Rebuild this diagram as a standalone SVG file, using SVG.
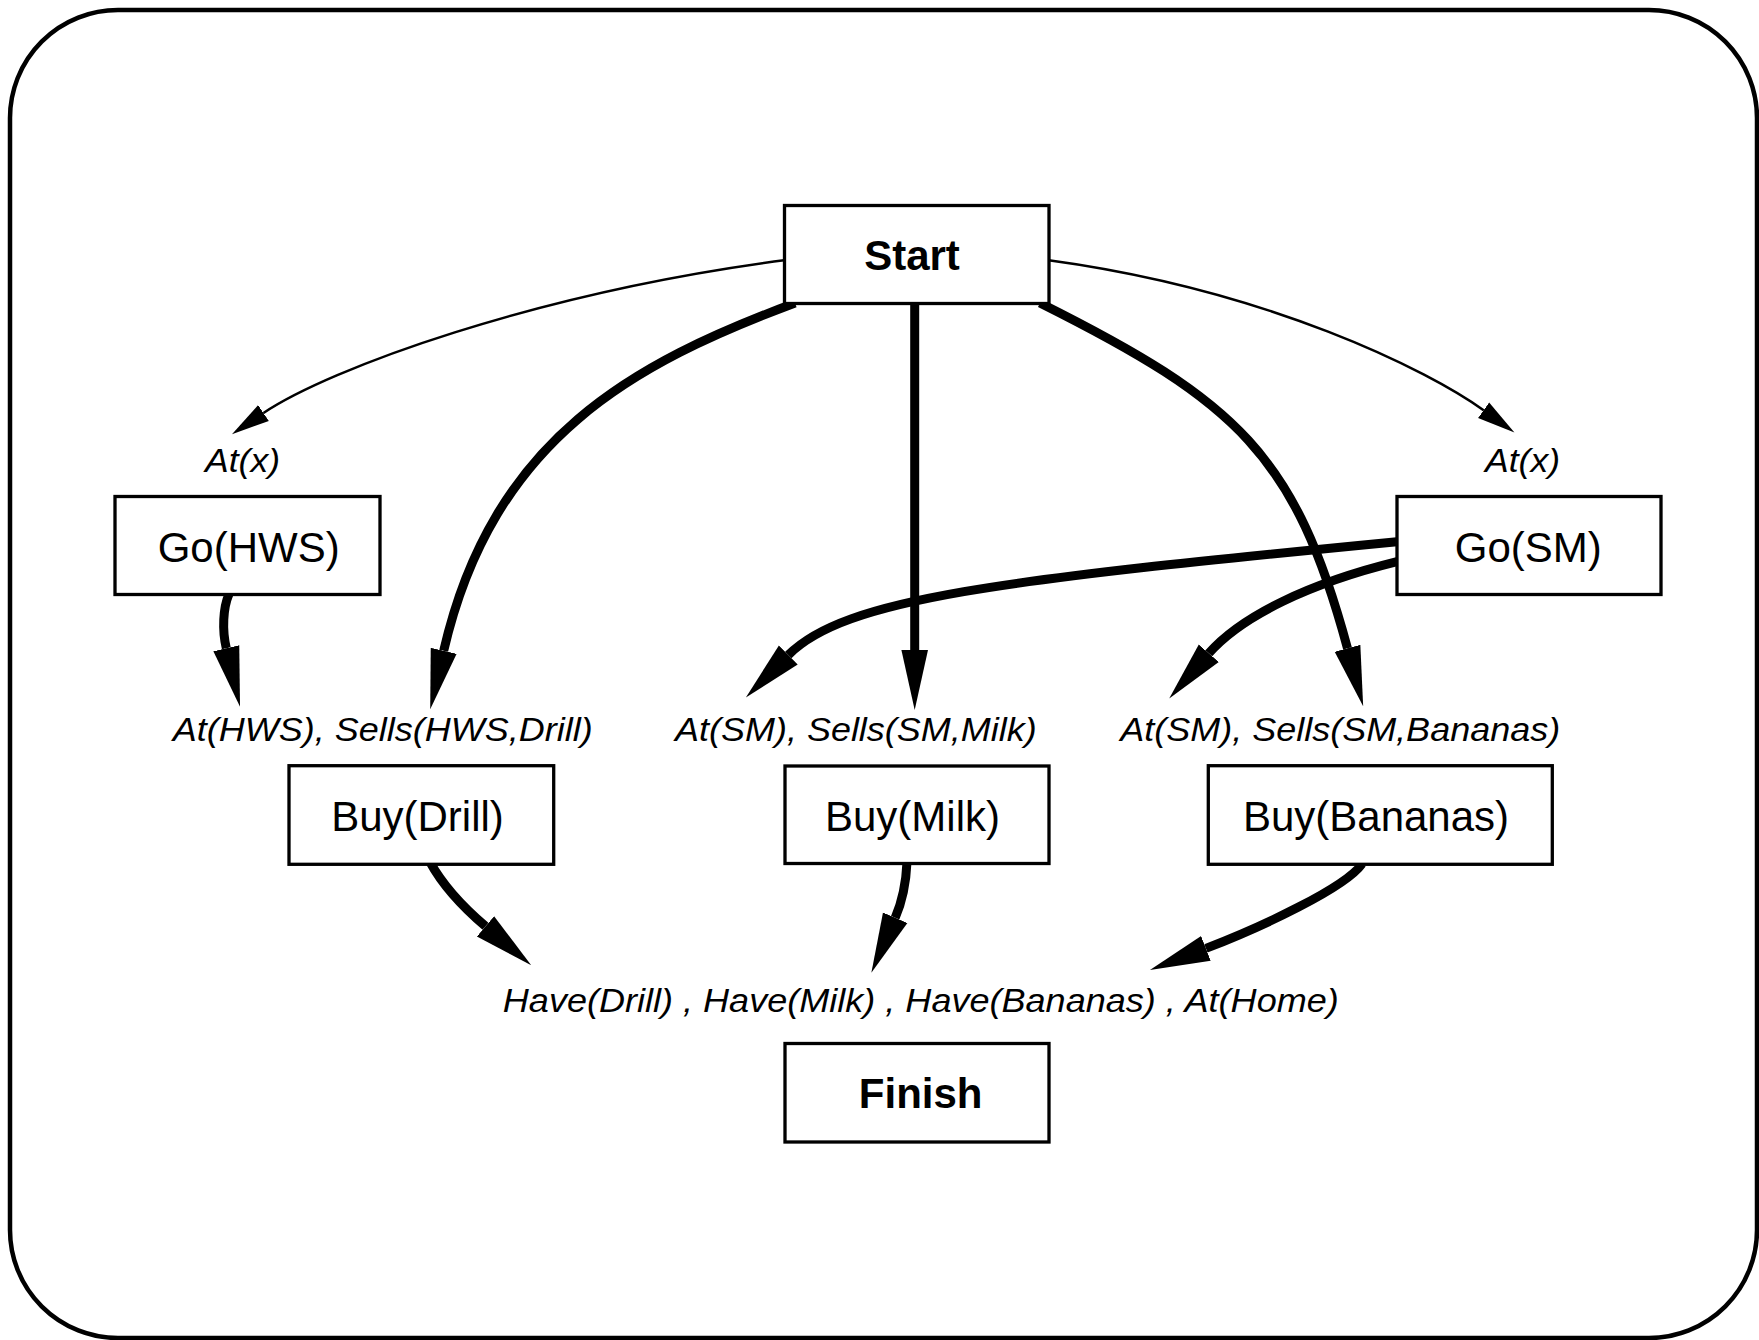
<svg xmlns="http://www.w3.org/2000/svg" width="1759" height="1340" viewBox="0 0 1759 1340">
  <style>
    .frame { fill: none; stroke: #000; stroke-width: 4.5; }
    .box { fill: #fff; stroke: #000; stroke-width: 3.3; }
    .name { font-family: "Liberation Sans", Arial, Helvetica, sans-serif; font-size: 42px; fill: #000; text-anchor: middle; }
    .bold { font-weight: bold; }
    .cond { font-family: "Liberation Sans", Arial, Helvetica, sans-serif; font-size: 34px; font-style: italic; fill: #000; }
    .thick { fill: none; stroke: #000; stroke-width: 9; }
    .thin { fill: none; stroke: #000; stroke-width: 2.5; }
  </style>
  <defs>
    <marker id="head-thick" markerUnits="userSpaceOnUse" markerWidth="62" markerHeight="30" viewBox="0 -15 62 30" refX="0" refY="0" orient="auto">
      <path d="M0,-13.3 L60,0 L0,13.3 Z" fill="#000"/>
    </marker>
    <marker id="head-thin" markerUnits="userSpaceOnUse" markerWidth="40" markerHeight="22" viewBox="0 -11 40 22" refX="0" refY="0" orient="auto">
      <path d="M0,-9.5 L38,0 L0,9.5 Z" fill="#000"/>
    </marker>
  </defs>

  <rect class="frame" x="10" y="10" width="1747" height="1328" rx="108" ry="108"/>

  <g id="connectors">
    <!-- Start to the At(x) preconditions of both Go actions -->
    <path class="thin" d="M786,260 C534,293 329,369 263.5,413" marker-end="url(#head-thin)"/>
    <path class="thin" d="M1047,260 C1269,290 1429,371 1483.6,410.3" marker-end="url(#head-thin)"/>
    <!-- Start to the Sells conditions -->
    <path class="thick" d="M795,303 C635,363 493,437 443.7,650.8" marker-end="url(#head-thick)"/>
    <path class="thick" d="M914.7,303 L914.7,650" marker-end="url(#head-thick)"/>
    <path class="thick" d="M1040,303 C1238,402 1295.3,455.3 1347.5,648.3" marker-end="url(#head-thick)"/>
    <!-- Go actions to the At conditions -->
    <path class="thick" d="M229,594 C223,608 222,630 226.3,648.3" marker-end="url(#head-thick)"/>
    <path class="thick" d="M1397,541.7 C997,580.4 844.9,598.4 788.3,655" marker-end="url(#head-thick)"/>
    <path class="thick" d="M1397,561.7 C1309.7,583.3 1241.8,615.7 1208.8,653.3" marker-end="url(#head-thick)"/>
    <!-- Buy actions to the Finish goals -->
    <path class="thick" d="M430,862 C442,884 458.8,903.6 485.5,926.3" marker-end="url(#head-thick)"/>
    <path class="thick" d="M907,862 C906,885 902,902 895.2,917.7" marker-end="url(#head-thick)"/>
    <path class="thick" d="M1362,864 C1345,888 1261.8,926.8 1205.9,948.4" marker-end="url(#head-thick)"/>
  </g>

  <g id="start">
    <rect class="box" x="784.5" y="205.5" width="264.5" height="98"/>
    <text class="name bold" x="912" y="270">Start</text>
  </g>

  <g id="go-hws">
    <text class="cond" x="205" y="471.7" textLength="75" lengthAdjust="spacingAndGlyphs">At(x)</text>
    <rect class="box" x="115" y="496.5" width="265" height="98"/>
    <text class="name" x="248.7" y="561.7">Go(HWS)</text>
  </g>

  <g id="go-sm">
    <text class="cond" x="1485" y="471.7" textLength="75" lengthAdjust="spacingAndGlyphs">At(x)</text>
    <rect class="box" x="1397" y="496.5" width="264" height="98"/>
    <text class="name" x="1528.3" y="561.7">Go(SM)</text>
  </g>

  <g id="buy-drill">
    <text class="cond" x="172.7" y="740.7" textLength="420" lengthAdjust="spacingAndGlyphs">At(HWS), Sells(HWS,Drill)</text>
    <rect class="box" x="289" y="765.7" width="264.7" height="98.6"/>
    <text class="name" x="417.5" y="830.7">Buy(Drill)</text>
  </g>

  <g id="buy-milk">
    <text class="cond" x="675" y="740.5" textLength="361.7" lengthAdjust="spacingAndGlyphs">At(SM), Sells(SM,Milk)</text>
    <rect class="box" x="785" y="766" width="264" height="97.5"/>
    <text class="name" x="912.5" y="830.7">Buy(Milk)</text>
  </g>

  <g id="buy-bananas">
    <text class="cond" x="1120.2" y="740.5" textLength="440" lengthAdjust="spacingAndGlyphs">At(SM), Sells(SM,Bananas)</text>
    <rect class="box" x="1208.3" y="765.7" width="344" height="98.6"/>
    <text class="name" x="1376" y="830.7">Buy(Bananas)</text>
  </g>

  <g id="finish">
    <text class="cond" x="502.8" y="1011.7" textLength="836" lengthAdjust="spacingAndGlyphs">Have(Drill) , Have(Milk) , Have(Bananas) , At(Home)</text>
    <rect class="box" x="785" y="1043.5" width="264" height="98.5"/>
    <text class="name bold" x="920.7" y="1108">Finish</text>
  </g>
</svg>
